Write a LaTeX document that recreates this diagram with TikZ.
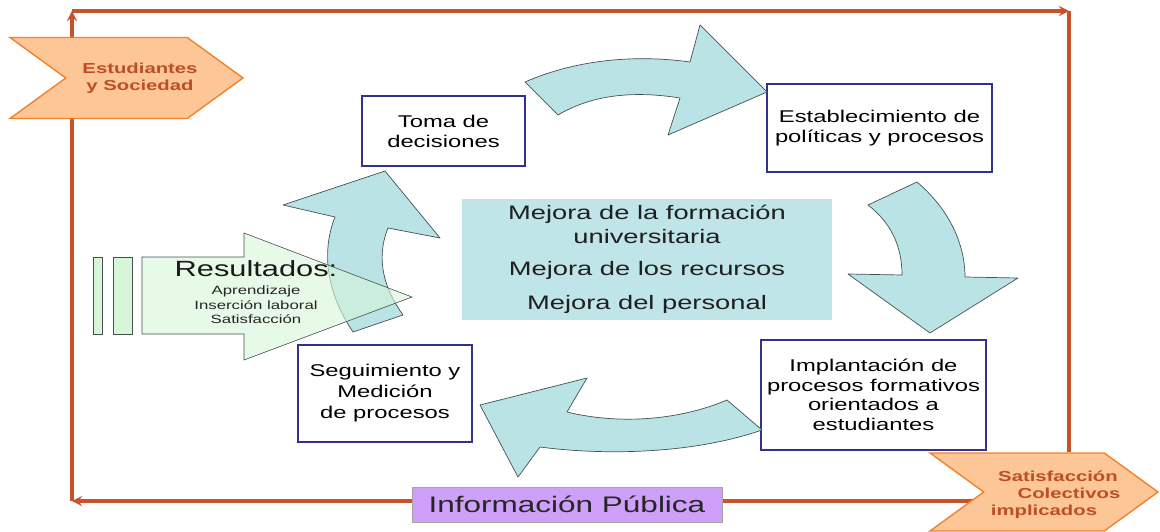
\documentclass[tikz,border=0pt]{standalone}
\usepackage{fontspec}
\setmainfont{Liberation Sans}[FakeStretch=1.4]
\usetikzlibrary{shapes,shapes.symbols,arrows,calc,positioning,backgrounds}

\definecolor{framered}{RGB}{200,82,42}
\definecolor{chevfill}{RGB}{252,198,150}
\definecolor{chevline}{RGB}{240,130,45}
\definecolor{chevtext}{RGB}{190,78,38}
\definecolor{boxline}{RGB}{50,50,140}
\definecolor{cyanfill}{RGB}{186,227,230}
\definecolor{arrowline}{RGB}{70,80,82}
\definecolor{greenfill}{RGB}{215,245,215}
\definecolor{infofill}{RGB}{206,160,250}

\newcommand{\fsz}[2]{\fontsize{#1}{#2}\selectfont}

\begin{document}
\begin{tikzpicture}[%
>=stealth,
x=1pt, y=-1pt,
procbox/.style={draw=boxline, line width=1.8pt, fill=white, align=center,
  inner sep=0pt, text=black, font=\fsz{17}{20}},
chevron/.style={signal, signal to=east, signal from=west,
  signal pointer angle=72, draw=chevline, line width=1.4pt,
  fill=chevfill, inner sep=0pt},
chevtext/.style={text=chevtext, font=\bfseries\fsz{14.5}{17}, align=center},
bigarrow/.style={draw=arrowline, line width=0.7pt, fill=cyanfill,
  line join=round},
frame/.style={draw=framered, line width=3.4pt}
]
\useasboundingbox (0,0) rectangle (1160,532);

% corners of the loop
\coordinate (tl) at (72,11);
\coordinate (tr) at (1069,11);
\coordinate (bl) at (72,501);

\node[chevron, minimum width=233, minimum height=81] (estud) at (126.5,78) {};
\node[chevtext] (estudtxt) at (140,78) {Estudiantes\\y Sociedad};

\node[chevron, minimum width=228, minimum height=78] (satis) at (1044,492) {};
\node[chevtext] (satistxt) at (1058,495)
  {Satisfacción\\\hspace*{22pt}Colectivos\\implicados\hspace*{28pt}};

\node[procbox, minimum width=163, minimum height=70] (toma) at (443.5,131)
  {Toma de\\decisiones};
\node[procbox, minimum width=225, minimum height=88] (estab) at (879.5,128)
  {Establecimiento de\\políticas y procesos};
\node[procbox, minimum width=225, minimum height=110, font=\fsz{17}{19.5}]
  (impl) at (873.5,395)
  {Implantación de\\procesos formativos\\orientados a\\estudiantes};
\node[procbox, minimum width=174, minimum height=97, font=\fsz{17}{21}]
  (segu) at (385,393.5)
  {Seguimiento y\\Medición\\de procesos};

\node[draw=black!35, line width=0.8pt, fill=infofill, minimum width=310,
  minimum height=35, inner sep=0pt, text=black!85, font=\fsz{22.5}{26}]
  (info) at (567,504.5) {Información Pública};

\node[fill=cyanfill!92!white, minimum width=370, minimum height=121,
  inner sep=0pt, align=center, text=black!88, font=\fsz{19.5}{24}]
  (mejora) at (647,259.5)
  {Mejora de la formación\\universitaria\\[8pt]Mejora de los recursos\\[10pt]Mejora del personal};

% loop round the cycle
\begin{scope}[on background layer]
\draw[frame,->] (bl) -- (tl);
\draw[frame,->] (tl) -- (tr);
\draw[frame] (tr) -- (tr |- satis.north);
\draw[frame,->] (bl -| satis) -- (bl);
\end{scope}

% curved arrows
\filldraw[bigarrow] (525,82) .. controls (580,58) and (640,55) .. (690,62)
  -- (700,25) -- (767,92) -- (668,135) -- (680,98)
  .. controls (630,90) and (590,96) .. (558,115) -- cycle;
\filldraw[bigarrow] (868,205) -- (917,182)
  .. controls (950,210) and (965,245) .. (965,277)
  -- (1018,278) -- (930,333) -- (848,274) -- (902,275)
  .. controls (902,245) and (890,222) .. (868,205) -- cycle;
\filldraw[bigarrow] (727,400) -- (762,430)
  .. controls (690,455) and (600,455) .. (540,447)
  -- (518,477) -- (480,405) -- (587,378) -- (567,412)
  .. controls (620,425) and (680,420) .. (727,400) -- cycle;
\filldraw[bigarrow] (385,171) -- (440,238) -- (388,228)
  .. controls (375,260) and (385,290) .. (403,315)
  -- (353,332) .. controls (325,290) and (322,250) .. (335,217)
  -- (283,205) -- cycle;

% results
\filldraw[draw=arrowline, line width=0.6pt, fill=greenfill]
  (93,257) rectangle (102,334);
\filldraw[draw=arrowline, line width=0.6pt, fill=greenfill]
  (113,257) rectangle (132,334);
\filldraw[draw=arrowline, line width=0.6pt, fill=greenfill, fill opacity=0.6]
  (142,257) -- (244,257) -- (244,233) -- (412,297) -- (244,360)
  -- (244,334) -- (142,334) -- cycle;
\node[font=\fsz{22}{24}, text=black!90] (resul) at (256,269) {Resultados:};
\node[below=2pt of resul, align=center, font=\fsz{12}{14.5}, text=black!85]
  (resullist) {Aprendizaje\\Inserción laboral\\Satisfacción};
\end{tikzpicture}
\end{document}
